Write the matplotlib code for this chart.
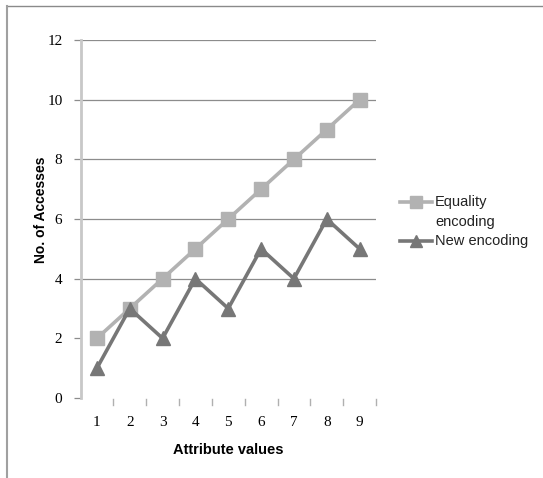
import matplotlib
matplotlib.use('Agg')
import matplotlib.pyplot as plt
from matplotlib.lines import Line2D

# data
attribute_values = [1, 2, 3, 4, 5, 6, 7, 8, 9]
equality_encoding = [2, 3, 4, 5, 6, 7, 8, 9, 10]
new_encoding = [1, 3, 2, 4, 3, 5, 4, 6, 5]
y_ticks = [0, 2, 4, 6, 8, 10, 12]
grid_levels = [4, 6, 8, 10, 12]

LIGHT = '#b2b2b2'
DARK = '#777777'
W, H = 543, 478

fig = plt.figure(figsize=(W / 100, H / 100), dpi=100)
fig.patch.set_facecolor('white')
ax = fig.add_axes([80.5 / W, 1 - 398 / H, 295.5 / W, 358 / H])

ax.plot(attribute_values, equality_encoding, color=LIGHT, lw=2.6,
        marker='s', markersize=10, zorder=3)
ax.plot(attribute_values, new_encoding, color=DARK, lw=2.6,
        marker='^', markersize=10, zorder=4)

ax.set_xlim(0.5, 9.5)
ax.set_ylim(0, 12)
for g in grid_levels:
    ax.axhline(g, color='#8c8c8c', lw=0.9, zorder=1)

ax.set_yticks(y_ticks)
ax.set_yticklabels([str(v) for v in y_ticks], family='Liberation Serif', fontsize=11)
ax.set_xticks(attribute_values)
ax.set_xticklabels([str(v) for v in attribute_values], family='Liberation Serif', fontsize=11)
ax.tick_params(axis='y', length=5, width=0.9, color='#8c8c8c', pad=8)
ax.tick_params(axis='x', length=0, pad=13)
# small category separators below the plot
for b in [1.5, 2.5, 3.5, 4.5, 5.5, 6.5, 7.5, 8.5, 9.5]:
    ax.plot([b, b], [-0.05, -0.22], color='#b0b0b0', lw=1, clip_on=False)

for s in ['top', 'right', 'bottom']:
    ax.spines[s].set_visible(False)
ax.spines['left'].set_color('#c8c8c8')
ax.spines['left'].set_linewidth(2)

ax.set_ylabel('No. of Accesses', family='Liberation Sans', fontweight='bold',
              fontsize=10, va='center')
ax.yaxis.set_label_coords(-0.134, 0.525)
ax.set_xlabel('Attribute values', family='Liberation Sans', fontweight='bold',
              fontsize=10.5, labelpad=10)

# legend drawn by hand so the handle sits on the first line of the wrapped label
def fx(px):
    return px / W

def fy(py):
    return 1 - py / H

for label_lines, color, marker, ypx in [(['Equality', 'encoding'], LIGHT, 's', 202),
                                        (['New encoding'], DARK, '^', 241)]:
    fig.add_artist(Line2D([fx(400), fx(432)], [fy(ypx), fy(ypx)], color=color, lw=2.6,
                          transform=fig.transFigure))
    fig.add_artist(Line2D([fx(416)], [fy(ypx)], color=color, marker=marker, markersize=8,
                          transform=fig.transFigure))
    for i, t in enumerate(label_lines):
        fig.text(fx(435), fy(ypx + 20 * i), t, family='Liberation Sans', fontsize=10.5,
                 va='center', ha='left', color='#222222')

# outer chart frame (top and left edges only visible)
fig.add_artist(Line2D([fx(7), 1], [fy(6), fy(6)], color='#8a8a8a', lw=1,
                      transform=fig.transFigure))
fig.add_artist(Line2D([fx(7), fx(7)], [0, fy(6)], color='#a0a0a0', lw=1.5,
                      transform=fig.transFigure))

fig.savefig('out.png', dpi=100, facecolor='white')
